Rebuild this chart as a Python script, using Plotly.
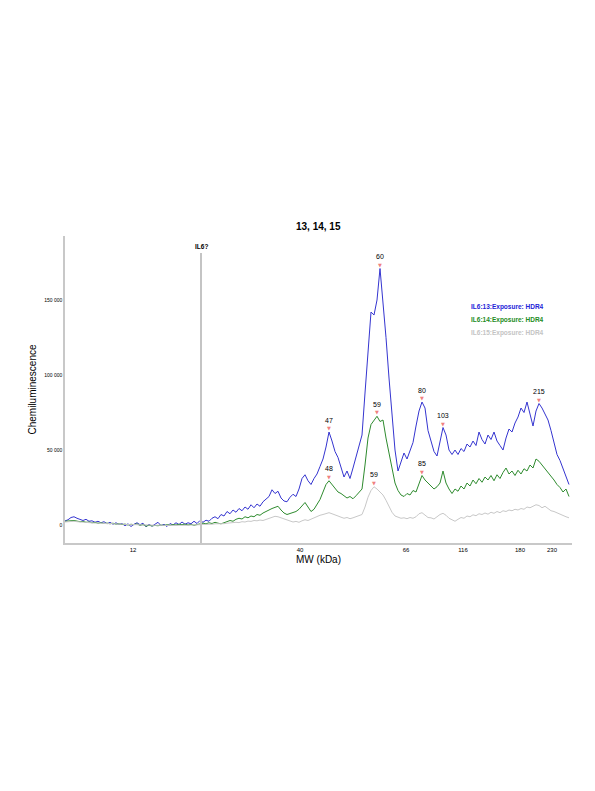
import numpy as np
import plotly.graph_objects as go

# lane position (arbitrary units, one sample every 3 units)
step = 3

# chemiluminescence, in thousands
il6_13 = [2.7, 3.5, 5.0, 5.5, 4.5, 4.0, 3.0, 3.8, 2.5, 2.8, 1.8, 2.5, 1.5, 2.2, 0.8, 1.8,
          0.5, 1.5, 0.2, 1.0, -0.5, 0.8, -1.0, 0.5, 1.5, 0.2, 1.2, -1.2, 0.5, -0.8, 0.3, 1.8,
          -0.5, 0.5, -1.0, 1.0, 0.0, 1.5, 0.3, 2.0, 0.5, 1.5, 0.8, 2.5, 1.0, 3.0, 1.8, 3.2,
          2.5, 4.5, 5.5, 4.2, 7.0, 6.0, 9.0, 7.5, 10.0, 8.5, 11.0, 9.5, 12.0, 10.5, 13.5, 11.5,
          14.0, 12.5, 15.5, 17.0, 19.0, 23.5, 21.0, 22.5, 18.0, 16.0, 15.5, 18.5, 20.5, 19.0, 24.0, 31.0,
          33.5, 29.5, 27.0, 31.0, 34.0, 39.0, 44.0, 52.0, 62.0, 56.0, 49.0, 45.0, 38.0, 32.0, 36.0, 31.0,
          38.0, 45.0, 52.0, 60.0, 88.0, 118.0, 142.0, 140.0, 150.0, 171.0, 150.0, 125.0, 98.0, 72.0, 50.0, 36.0,
          42.0, 48.0, 44.0, 50.0, 55.0, 66.0, 76.0, 82.0, 78.0, 63.0, 56.0, 49.0, 46.0, 55.0, 65.0, 60.0,
          50.0, 47.0, 50.0, 47.0, 51.0, 49.0, 54.0, 52.0, 56.0, 53.0, 62.0, 57.0, 54.0, 60.0, 57.0, 62.0,
          56.0, 53.0, 50.0, 58.0, 64.0, 62.0, 68.0, 72.0, 78.0, 75.0, 82.0, 74.0, 66.0, 76.0, 81.0, 78.0,
          74.0, 70.0, 63.0, 55.0, 47.0, 43.0, 38.0, 32.0, 27.0]

il6_14 = [2.5, 2.8, 3.2, 3.0, 2.6, 2.2, 2.4, 1.8, 2.0, 1.5, 1.8, 1.2, 1.5, 1.0, 1.3, 0.8,
          1.2, 0.5, 0.8, 0.3, 0.6, 0.0, 0.5, 0.2, 0.8, -0.3, 0.3, -0.8, -0.2, -0.6, -0.3, -0.5,
          0.0, -0.3, 0.2, -0.2, 0.3, 0.0, 0.5, 0.2, 0.6, 0.0, 0.4, -0.2, 0.3, 0.8, 1.2, 0.8,
          1.5, 1.0, 1.8, 1.2, 0.8, 1.5, 2.2, 3.0, 2.5, 3.8, 4.5, 4.0, 5.5, 4.8, 6.0, 5.5,
          7.0, 6.5, 8.0, 8.8, 10.0, 11.0, 12.0, 12.5, 10.0, 8.0, 7.0, 7.5, 8.5, 9.0, 10.5, 13.0,
          15.0, 12.0, 9.0, 10.5, 13.5, 17.0, 22.0, 27.0, 29.5, 27.0, 24.5, 22.0, 21.0, 19.5, 18.0, 19.0,
          17.5, 19.5, 22.0, 24.0, 40.0, 58.0, 67.0, 70.0, 72.5, 69.0, 70.0, 58.0, 48.0, 38.0, 28.0, 23.0,
          20.0, 19.0, 21.0, 20.0, 23.0, 22.0, 27.0, 33.0, 30.0, 28.0, 26.0, 24.0, 25.5, 28.0, 36.0, 28.0,
          24.0, 21.0, 24.0, 22.5, 26.0, 24.0, 28.0, 26.0, 30.0, 27.5, 31.0, 28.5, 32.0, 30.0, 33.0, 29.5,
          33.5, 31.0, 35.0, 38.0, 34.0, 36.0, 33.0, 36.5, 34.0, 37.5, 36.0, 40.0, 38.0, 44.0, 42.5, 40.0,
          38.0, 35.5, 33.0, 30.0, 27.0, 25.0, 22.0, 24.0, 19.0]

il6_15 = [2.0, 2.2, 2.8, 2.5, 2.2, 2.0, 1.8, 1.9, 1.5, 1.6, 1.3, 1.4, 1.1, 1.2, 0.9, 1.0,
          0.7, 0.8, 0.5, 0.6, 0.3, 0.4, 0.2, 0.3, 0.1, 0.2, 0.0, 0.1, -0.1, 0.0, -0.2, -0.1,
          -0.3, -0.2, -0.3, -0.2, -0.4, -0.3, -0.2, -0.3, -0.1, -0.2, 0.0, -0.1, 0.1, 0.2, 0.4, 0.3,
          0.6, 0.5, 0.8, 0.7, 1.0, 0.9, 1.2, 1.5, 1.3, 1.8, 1.6, 2.2, 2.0, 2.6, 2.4, 3.0,
          2.8, 3.3, 3.0, 3.8, 4.5, 5.2, 5.8, 5.5, 4.8, 3.8, 3.2, 2.5, 2.0, 2.4, 1.8, 2.8,
          3.5, 3.0, 4.0, 4.8, 5.5, 6.5, 7.0, 7.8, 8.2, 7.5, 6.5, 6.0, 5.2, 4.5, 5.0, 4.2,
          4.8, 5.5, 6.0, 7.0, 12.0, 18.5, 23.0, 25.5, 24.0, 22.0, 20.0, 16.5, 12.0, 8.5, 6.0, 5.0,
          4.5, 4.8, 4.2, 5.0, 4.5, 5.5, 7.5, 8.2, 6.5, 5.0, 4.8, 4.0, 5.5, 7.0, 7.8, 6.5,
          4.5, 3.5, 2.5, 3.8, 5.0, 4.5, 6.0, 5.5, 6.8, 6.2, 7.5, 7.0, 8.0, 7.2, 8.5, 7.8,
          9.0, 8.2, 9.5, 9.0, 10.0, 9.5, 10.5, 10.0, 11.0, 10.5, 12.0, 11.5, 12.5, 13.5, 13.0, 11.5,
          12.5, 11.0, 9.5, 9.0, 8.0, 7.0, 6.0, 5.5, 4.8]

names = ["IL6:13:Exposure: HDR4", "IL6:14:Exposure: HDR4", "IL6:15:Exposure: HDR4"]
colors = ["#3535d0", "#2e8b2e", "#c8c8c8"]
legend_colors = ["#2323d8", "#238c23", "#c4c4c4"]

# MW ladder: label -> lane position
mw_labels = ["12", "40", "66", "116", "180", "230"]
mw_pos = [68, 235, 341, 398, 455, 487]

# called peaks per series: (lane position, MW label)
peaks = [
    [(264, "47"), (315, "60"), (357, "80"), (378, "103"), (474, "215")],
    [(264, "48"), (312, "59"), (357, "85")],
    [(309, "59")],
]

marker_pos = 136
marker_label = "IL6?"

series = [np.array(s) * 1000 for s in (il6_13, il6_14, il6_15)]
pos = np.arange(len(il6_13)) * step

fig = go.Figure()
for y, name, c in zip(series, names, colors):
    fig.add_trace(go.Scatter(x=pos, y=y, mode="lines", name=name,
                             line=dict(color=c, width=1), showlegend=False))

ann = []
for y, plist in zip(series, peaks):
    for p, lab in plist:
        v = y[p // step]
        ann.append(dict(x=p, y=v, text="▼", showarrow=False, yshift=4,
                        font=dict(size=5, color="#f08080", family="DejaVu Sans")))
        ann.append(dict(x=p, y=v, text=lab, showarrow=False, yshift=12,
                        font=dict(size=7, color="#000000")))

for i, (name, c) in enumerate(zip(names, legend_colors)):
    ann.append(dict(xref="paper", yref="paper", x=0.797, y=0.788 - i * 0.042,
                    xanchor="left", text="<b>%s</b>" % name, showarrow=False,
                    font=dict(size=6.5, color=c)))

ann.append(dict(x=marker_pos, yref="paper", y=0.945, yanchor="bottom", text="<b>%s</b>" % marker_label,
                showarrow=False, yshift=1, font=dict(size=6.5, color="#000000")))
ann.append(dict(xref="paper", yref="paper", x=0.5, y=1, yanchor="bottom", yshift=2,
                text="<b>13, 14, 15</b>", showarrow=False, font=dict(size=10, color="#000000")))

fig.add_shape(type="line", x0=marker_pos, x1=marker_pos, yref="paper", y0=0, y1=0.945,
              line=dict(color="#c4c4c4", width=2))

# page body has an 8px margin, so the figure is a bit smaller than the window
fig.update_layout(
    width=587, height=783, autosize=False,
    margin=dict(l=57, r=23, t=228, b=248),
    plot_bgcolor="white", paper_bgcolor="white",
    font=dict(family="Liberation Sans, Arial, sans-serif", color="#000000"),
    separators=". ",
    annotations=ann,
)
fig.update_xaxes(range=[0, 507], tickvals=mw_pos, ticktext=mw_labels, showgrid=False, zeroline=False,
                 showline=True, linecolor="#c8c8c8", linewidth=1.5, ticks="", tickfont=dict(size=6),
                 title=dict(text="MW (kDa)", font=dict(size=10), standoff=4))
fig.update_yaxes(range=[-12000, 192700], tickvals=[0, 50000, 100000, 150000], tickformat=",d",
                 showgrid=False, zeroline=False, showline=True, linecolor="#c8c8c8", linewidth=1.5,
                 ticks="", tickfont=dict(size=5),
                 title=dict(text="Chemiluminescence", font=dict(size=10), standoff=6))

fig.write_html("out.html")
